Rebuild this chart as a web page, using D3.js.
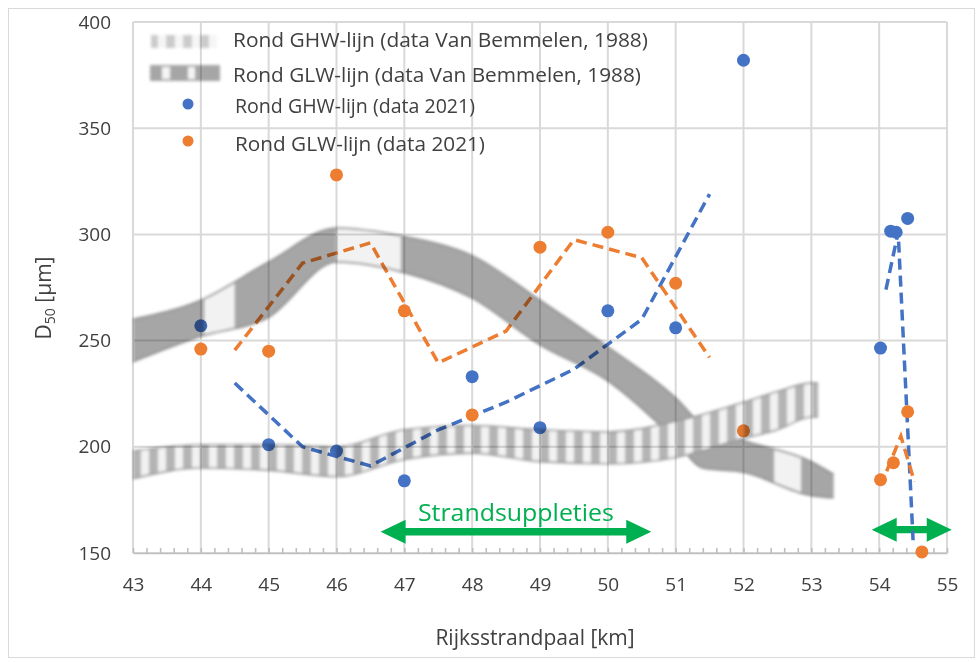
<!DOCTYPE html>
<html>
<head>
<meta charset="utf-8">
<script src="https://cdn.jsdelivr.net/npm/d3@7"></script>
<style>
  body { margin: 0; background: #fff; }
  text { font-family: 'Open Sans', sans-serif; fill: #404040; }
</style>
</head>
<body>
<div id="chart"></div>
<script>
// 2021 samples (km, D50 in um)
const ghw2021Km  = [44, 45, 46, 47, 48, 49, 50, 51, 52, 54.02, 54.17, 54.25, 54.42]
const ghw2021D50 = [257, 201, 198, 184, 233, 209, 264, 256, 382, 246.5, 301.5, 301, 307.5]
const glw2021Km  = [44, 45, 46, 47, 48, 49, 50, 51, 52, 54.02, 54.21, 54.42, 54.63]
const glw2021D50 = [246, 245, 328, 264, 215, 294, 301, 277, 207.5, 184.5, 192.5, 216.5, 150.5]

// dashed trend lines ([km, D50])
const ghwTrendMain  = [[44.5, 230], [45.5, 200], [46.5, 191], [47.5, 208], [48.5, 221], [49.5, 236.5], [50.5, 260], [51.5, 319]]
const ghwTrendRight = [[54.10, 274], [54.28, 301], [54.50, 156]]
const glwTrendMain  = [[44.5, 245.5], [45.5, 286.5], [46.5, 296], [47.5, 239.5], [48.5, 254.5], [49.5, 297.5], [50.5, 289], [51.5, 242]]
const glwTrendRight = [[54.11, 188.5], [54.32, 205], [54.52, 183.5]]

// Van Bemmelen 1988 bands (upper / lower edge)
const glw1988Km     = [43, 44, 45, 46, 47, 48, 49, 50, 51, 51.4, 52, 53, 53.33]
const glw1988Top    = [260, 269, 287, 303, 299, 290, 269, 247, 223, 210, 203, 193, 187]
const glw1988Bottom = [240, 252, 261, 287, 282, 270, 248, 231, 203, 190, 188, 177, 176]
const ghw1988Km     = [43, 44, 45, 46, 47, 48, 49, 50, 51, 52, 52.5, 53, 53.1]
const ghw1988Top    = [198, 201, 201, 200, 208, 210, 208, 207, 212, 221, 226, 230, 230]
const ghw1988Bottom = [185, 190, 189, 186, 194, 197, 193, 192, 195, 204, 208, 214, 214]

// beach nourishment arrows (km from, km to, level)
const suppletieFrom = [46.65, 53.89]
const suppletieTo   = [50.64, 55.07]
const suppletieD50  = [160, 161]

const xTicks = [43, 44, 45, 46, 47, 48, 49, 50, 51, 52, 53, 54, 55]
const yTicks = [150, 200, 250, 300, 350, 400]

const W = 978, H = 662
const blue = '#4472C4', orange = '#ED7D31', green = '#00B050'

const svg = d3.select('#chart').append('svg')
  .attr('width', W)
  .attr('height', H)

// chart frame
svg.append('rect')
  .attr('x', 8.5).attr('y', 8.5)
  .attr('width', 966).attr('height', 649)
  .attr('fill', '#fff')
  .attr('stroke', '#d9d9d9')

const x = d3.scaleLinear().domain([43, 55]).range([133, 947])
const y = d3.scaleLinear().domain([150, 400]).range([553, 22])

const defs = svg.append('defs')
defs.append('filter').attr('id', 'soft')
  .attr('x', '-5%').attr('y', '-20%').attr('width', '110%').attr('height', '140%')
  .append('feGaussianBlur').attr('stdDeviation', 1.4)

const stripes = defs.append('pattern').attr('id', 'stripes')
  .attr('patternUnits', 'userSpaceOnUse')
  .attr('width', 17).attr('height', 10)
stripes.append('rect').attr('width', 17).attr('height', 10).attr('fill', '#b4b4b4')
stripes.append('rect').attr('x', 5).attr('width', 8).attr('height', 10).attr('fill', '#f2f2f2')

// gridlines
const grid = svg.append('g').attr('stroke', '#d9d9d9').attr('stroke-width', 2)
grid.selectAll('line.v').data(xTicks).join('line')
  .attr('class', 'v')
  .attr('x1', d => x(d)).attr('x2', d => x(d))
  .attr('y1', y(400)).attr('y2', y(150))
grid.selectAll('line.h').data(yTicks).join('line')
  .attr('class', 'h')
  .attr('x1', x(43)).attr('x2', x(55))
  .attr('y1', d => y(d)).attr('y2', d => y(d))

// x axis: minor ticks pointing up, labels below
const minor = svg.append('g')
  .attr('transform', `translate(0,${y(150)})`)
  .call(d3.axisTop(x).tickValues(d3.range(43, 55.001, 0.2)).tickSize(5).tickSizeOuter(0).tickFormat(''))
minor.selectAll('line, path').attr('stroke', '#bfbfbf').attr('stroke-width', 1.6)

const xAxis = svg.append('g')
  .attr('transform', `translate(0,${y(150)})`)
  .call(d3.axisBottom(x).tickValues(xTicks).tickSize(0).tickPadding(25).tickFormat(d3.format('d')))
xAxis.select('.domain').remove()
xAxis.selectAll('text').style('font-size', '19px').attr('fill', '#333')

const yAxis = svg.append('g')
  .attr('transform', `translate(${x(43)},0)`)
  .call(d3.axisLeft(y).tickValues(yTicks).tickSize(0).tickPadding(22))
yAxis.select('.domain').remove()
yAxis.selectAll('text').style('font-size', '19px').attr('fill', '#333')

// axis titles
svg.append('text')
  .attr('x', 535).attr('y', 645)
  .attr('text-anchor', 'middle')
  .style('font-size', '21px')
  .text('Rijksstrandpaal [km]')

const yTitle = svg.append('text')
  .attr('transform', 'translate(51,298) rotate(-90)')
  .attr('text-anchor', 'middle')
  .style('font-size', '21px')
yTitle.append('tspan').text('D')
yTitle.append('tspan').attr('dy', 4).style('font-size', '14px').text('50')
yTitle.append('tspan').attr('dy', -4).text(' [µm]')

// green nourishment arrows
const arrowPath = (x0, x1, yc) => {
  const hl = 25, hh = 12, sh = 3.7
  return `M${x0},${yc} L${x0 + hl},${yc - hh} L${x0 + hl},${yc - sh} L${x1 - hl},${yc - sh} L${x1 - hl},${yc - hh}
    L${x1},${yc} L${x1 - hl},${yc + hh} L${x1 - hl},${yc + sh} L${x0 + hl},${yc + sh} L${x0 + hl},${yc + hh} Z`
}
svg.append('g').selectAll('path').data(suppletieFrom).join('path')
  .attr('d', (d, i) => arrowPath(x(d), x(suppletieTo[i]), y(suppletieD50[i])))
  .attr('fill', green)

svg.append('text')
  .attr('x', x((suppletieFrom[0] + suppletieTo[0]) / 2)).attr('y', y(suppletieD50[0]) - 11)
  .attr('text-anchor', 'middle')
  .attr('textLength', 196).attr('lengthAdjust', 'spacingAndGlyphs')
  .style('font-size', '24px').style('fill', green)
  .text('Strandsuppleties')

// 2021 dashed trends
const line = d3.line().x(d => x(d[0])).y(d => y(d[1]))
const trends = svg.append('g').attr('fill', 'none').attr('stroke-width', 3.5).attr('stroke-dasharray', '11,6')
trends.selectAll('path.b').data([ghwTrendMain, ghwTrendRight]).join('path')
  .attr('class', 'b').attr('d', line).attr('stroke', blue)
trends.selectAll('path.o').data([glwTrendMain, glwTrendRight]).join('path')
  .attr('class', 'o').attr('d', line).attr('stroke', orange)

// 2021 points
svg.append('g').selectAll('circle').data(ghw2021Km).join('circle')
  .attr('cx', d => x(d)).attr('cy', (d, i) => y(ghw2021D50[i])).attr('r', 6.5)
  .attr('fill', blue)
svg.append('g').selectAll('circle').data(glw2021Km).join('circle')
  .attr('cx', d => x(d)).attr('cy', (d, i) => y(glw2021D50[i])).attr('r', 6.5)
  .attr('fill', orange)

// 1988 bands, blended on top like the scanned overlay
const bandArea = (km, lo, hi) => d3.area()
  .x((d, i) => x(km[i]))
  .y0((d, i) => y(lo[i]))
  .y1((d, i) => y(hi[i]))
  .curve(d3.curveMonotoneX)(km)
const edge = (km, v) => d3.line()
  .x((d, i) => x(km[i]))
  .y((d, i) => y(v[i]))
  .curve(d3.curveMonotoneX)(km)

// light gaps in the solid band
const glwGaps = [[44.05, 44.5], [46.0, 46.95], [52.45, 52.85]]
defs.append('clipPath').attr('id', 'gapClip')
  .selectAll('rect').data(glwGaps).join('rect')
  .attr('x', d => x(d[0])).attr('width', d => x(d[1]) - x(d[0]))
  .attr('y', 0).attr('height', H)
const mask = defs.append('mask').attr('id', 'glwMask').attr('maskUnits', 'userSpaceOnUse')
  .attr('x', 0).attr('y', 0).attr('width', W).attr('height', H)
mask.append('path').attr('d', bandArea(glw1988Km, glw1988Bottom, glw1988Top)).attr('fill', '#fff')
mask.append('path').attr('d', bandArea(glw1988Km, glw1988Bottom, glw1988Top)).attr('fill', '#262626')
  .attr('clip-path', 'url(#gapClip)')

const bands = svg.append('g')
  .style('mix-blend-mode', 'multiply')
  .attr('filter', 'url(#soft)')

bands.append('rect')
  .attr('x', 0).attr('y', 0).attr('width', W).attr('height', H)
  .attr('fill', '#a6a6a6')
  .attr('mask', 'url(#glwMask)')
bands.append('path').attr('d', edge(glw1988Km, glw1988Top)).attr('fill', 'none').attr('stroke', '#8c8c8c').attr('stroke-width', 1.6)
bands.append('path').attr('d', edge(glw1988Km, glw1988Bottom)).attr('fill', 'none').attr('stroke', '#8c8c8c').attr('stroke-width', 1.6)

bands.append('path')
  .attr('d', bandArea(ghw1988Km, ghw1988Bottom, ghw1988Top))
  .attr('fill', 'url(#stripes)')
bands.append('path').attr('d', edge(ghw1988Km, ghw1988Top)).attr('fill', 'none').attr('stroke', '#999').attr('stroke-width', 1.6)
bands.append('path').attr('d', edge(ghw1988Km, ghw1988Bottom)).attr('fill', 'none').attr('stroke', '#999').attr('stroke-width', 1.6)

// legend
const legend = svg.append('g')
const legendRows = [
  { text: 'Rond GHW-lijn (data Van Bemmelen, 1988)', y: 40, w: 415 },
  { text: 'Rond GLW-lijn (data Van Bemmelen, 1988)', y: 75, w: 408 },
  { text: 'Rond GHW-lijn (data 2021)', y: 106, w: 240 },
  { text: 'Rond GLW-lijn (data 2021)', y: 144, w: 250 },
]
legend.selectAll('text').data(legendRows).join('text')
  .attr('x', (d, i) => i < 2 ? 233 : 235)
  .attr('y', d => d.y)
  .attr('dy', '0.36em')
  .attr('textLength', d => d.w).attr('lengthAdjust', 'spacingAndGlyphs')
  .style('font-size', '19.5px')
  .attr('fill', '#333')
  .text(d => d.text)

const sym = legend.append('g').style('mix-blend-mode', 'multiply').attr('filter', 'url(#soft)')
// striped symbol
sym.append('rect').attr('x', 151).attr('y', 35).attr('width', 66).attr('height', 13).attr('fill', 'url(#stripes)').attr('opacity', 0.7)
// block symbol
sym.append('rect').attr('x', 150).attr('y', 65).attr('width', 70).attr('height', 16).attr('fill', '#a6a6a6')
sym.selectAll('rect.gap').data([[162, 8], [188, 7]]).join('rect')
  .attr('class', 'gap')
  .attr('x', d => d[0]).attr('width', d => d[1])
  .attr('y', 67).attr('height', 12)
  .attr('fill', '#f4f4f4')

legend.append('circle').attr('cx', 188).attr('cy', 104).attr('r', 5.5).attr('fill', blue)
legend.append('circle').attr('cx', 188).attr('cy', 141).attr('r', 5.5).attr('fill', orange)
</script>
</body>
</html>
